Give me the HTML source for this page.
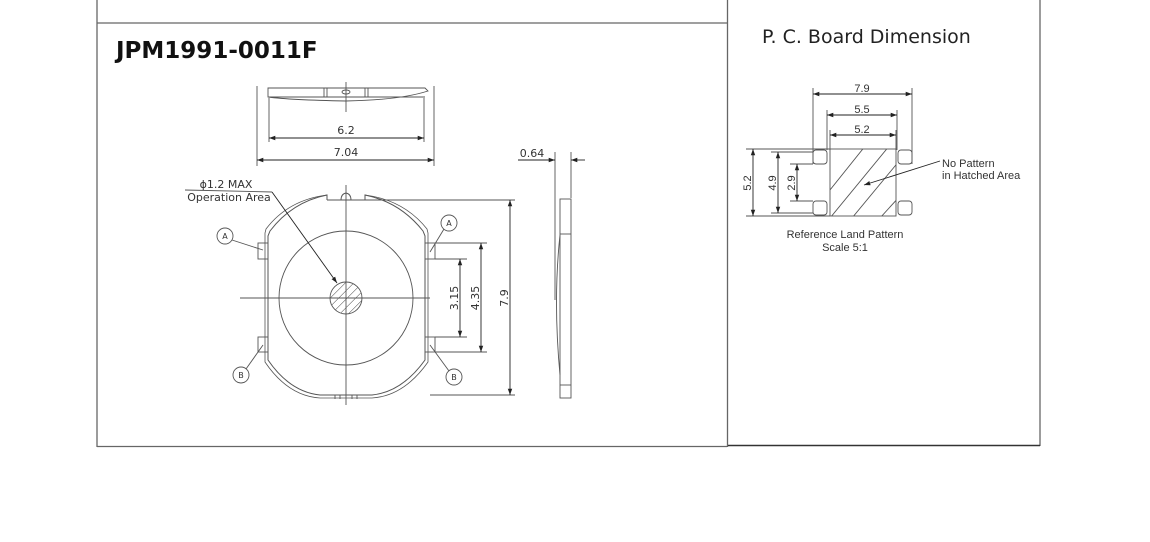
<!DOCTYPE html>
<html><head><meta charset="utf-8"><style>
html,body{margin:0;padding:0;background:#fff;width:1150px;height:542px;overflow:hidden}
svg{display:block}
text{font-family:"DejaVu Sans","Liberation Sans",sans-serif;fill:#333}
</style></head><body>
<svg width="1150" height="542" viewBox="0 0 1150 542" xmlns="http://www.w3.org/2000/svg">
<defs>
<marker id="ar" viewBox="0 0 10 10" refX="10" refY="5" markerWidth="7" markerHeight="7" orient="auto-start-reverse"><path d="M0,1.5 L10,5 L0,8.5z" fill="#222"/></marker>
<pattern id="hat" width="6" height="6" patternUnits="userSpaceOnUse" patternTransform="rotate(45)"><line x1="0" y1="0" x2="0" y2="6" stroke="#444" stroke-width="1"/></pattern>
<clipPath id="sq"><rect x="830" y="149" width="66" height="67"/></clipPath>
</defs>
<g stroke="#666" stroke-width="1.3" fill="none">
<line x1="97" y1="0" x2="97" y2="447"/>
<line x1="97" y1="23" x2="727" y2="23"/>
<line x1="727.5" y1="0" x2="727.5" y2="447"/>
<line x1="1040" y1="0" x2="1040" y2="446"/>
<line x1="97" y1="446.5" x2="727" y2="446.5"/>
<line x1="728" y1="445.5" x2="1040" y2="445.5" stroke="#333" stroke-width="1.6"/>
</g>
<text x="116" y="58" font-size="23" font-weight="bold" style="fill:#111">JPM1991-0011F</text>
<text x="762" y="43" font-size="19" style="fill:#222">P. C. Board Dimension</text>

<g stroke="#555" stroke-width="0.9" fill="none">
<path d="M268,88 H425 L428,91 Q400,100 346,101 Q290,100 268,97 Z" fill="#fff"/>
<line x1="268" y1="97" x2="425" y2="97"/>
<line x1="324" y1="88" x2="324" y2="97"/><line x1="327" y1="88" x2="327" y2="97"/>
<line x1="365" y1="88" x2="365" y2="97"/><line x1="368" y1="88" x2="368" y2="97"/>
<ellipse cx="346" cy="92" rx="4" ry="2"/>
<line x1="346" y1="82" x2="346" y2="112"/>
<line x1="257" y1="86" x2="257" y2="166"/><line x1="434" y1="86" x2="434" y2="166"/>
<line x1="269" y1="98" x2="269" y2="142"/><line x1="424" y1="98" x2="424" y2="142"/>
<line x1="269" y1="138" x2="424" y2="138" stroke="#222" marker-start="url(#ar)" marker-end="url(#ar)"/>
<line x1="257" y1="160" x2="434" y2="160" stroke="#222" marker-start="url(#ar)" marker-end="url(#ar)"/>

<path d="M327,200 L327,195 Q292,202 270,231 L268,236 V360 Q290,392 320,395 H372 Q402,392 425,360 V236 L423,231 Q400,202 365,195 L365,200" stroke-width="1"/>
<path d="M327,195 Q288,200 266,229 L265,233 V362 Q288,396 320,398 H372 Q404,396 428,362 V233 L427,229 Q404,200 365,195" stroke-width="0.8"/>
<path d="M341,200 Q341,194 346,193 Q351,194 351,200"/>
<line x1="327" y1="200" x2="365" y2="200"/>
<line x1="335" y1="395" x2="335" y2="399"/><line x1="340" y1="395" x2="340" y2="399"/><line x1="352" y1="395" x2="352" y2="399"/><line x1="357" y1="395" x2="357" y2="399"/>
<circle cx="346" cy="298" r="67"/>
<circle cx="346" cy="298" r="16" fill="url(#hat)"/>
<line x1="240" y1="298" x2="430" y2="298"/>
<line x1="346" y1="185" x2="346" y2="405"/>
<rect x="258" y="243" width="10" height="16"/><rect x="258" y="337" width="10" height="15"/>
<rect x="425" y="243" width="10" height="16"/><rect x="425" y="337" width="10" height="15"/>
<circle cx="225" cy="236" r="8"/><circle cx="449" cy="223" r="8"/>
<circle cx="241" cy="375" r="8"/><circle cx="454" cy="377" r="8"/>
<line x1="232" y1="240" x2="263" y2="250"/><line x1="444" y1="229" x2="430" y2="252"/>
<line x1="246" y1="369" x2="263" y2="345"/><line x1="449" y1="371" x2="430" y2="345"/>
<line x1="435" y1="259" x2="467" y2="259"/><line x1="435" y1="337" x2="467" y2="337"/>
<line x1="435" y1="243" x2="487" y2="243"/><line x1="435" y1="352" x2="487" y2="352"/>
<line x1="365" y1="200" x2="515" y2="200"/><line x1="430" y1="395" x2="515" y2="395"/>
<line x1="460" y1="259" x2="460" y2="337" stroke="#222" marker-start="url(#ar)" marker-end="url(#ar)"/>
<line x1="481" y1="243" x2="481" y2="352" stroke="#222" marker-start="url(#ar)" marker-end="url(#ar)"/>
<line x1="510" y1="200" x2="510" y2="395" stroke="#222" marker-start="url(#ar)" marker-end="url(#ar)"/>
<line x1="185" y1="190" x2="272" y2="192"/>
<line x1="272" y1="192" x2="337" y2="283" stroke="#222" marker-end="url(#ar)"/>
<line x1="555" y1="152" x2="555" y2="300"/><line x1="571" y1="152" x2="571" y2="198"/>
<line x1="518" y1="160" x2="555" y2="160" stroke="#222" marker-end="url(#ar)"/>
<line x1="585" y1="160" x2="571" y2="160" stroke="#222" marker-end="url(#ar)"/>
<rect x="560" y="199" width="11" height="199"/>
<line x1="560" y1="234" x2="571" y2="234"/><line x1="560" y1="385" x2="571" y2="385"/>
<path d="M560,235 Q553,300 560,375"/>

<line x1="813" y1="88" x2="813" y2="164"/><line x1="912" y1="88" x2="912" y2="164"/>
<line x1="827" y1="110" x2="827" y2="150"/><line x1="897" y1="110" x2="897" y2="150"/>
<line x1="830" y1="130" x2="830" y2="150"/><line x1="896" y1="130" x2="896" y2="150"/>
<line x1="813" y1="94" x2="912" y2="94" stroke="#222" marker-start="url(#ar)" marker-end="url(#ar)"/>
<line x1="827" y1="115" x2="897" y2="115" stroke="#222" marker-start="url(#ar)" marker-end="url(#ar)"/>
<line x1="830" y1="135" x2="896" y2="135" stroke="#222" marker-start="url(#ar)" marker-end="url(#ar)"/>
<rect x="830" y="149" width="66" height="67"/>
<g clip-path="url(#sq)"><line x1="830" y1="190" x2="870" y2="140"/><line x1="830" y1="218" x2="890" y2="145"/><line x1="852" y1="218" x2="900" y2="160"/><line x1="880" y1="218" x2="900" y2="196"/></g>
<rect x="813" y="150" width="14" height="14" rx="3"/><rect x="813" y="201" width="14" height="14" rx="3"/>
<rect x="898" y="150" width="14" height="14" rx="3"/><rect x="898" y="201" width="14" height="14" rx="3"/>
<line x1="746" y1="149" x2="830" y2="149"/><line x1="746" y1="216" x2="830" y2="216"/>
<line x1="771" y1="152" x2="813" y2="152"/><line x1="771" y1="213" x2="813" y2="213"/>
<line x1="790" y1="164" x2="813" y2="164"/><line x1="790" y1="201" x2="813" y2="201"/>
<line x1="753" y1="149" x2="753" y2="216" stroke="#222" marker-start="url(#ar)" marker-end="url(#ar)"/>
<line x1="778" y1="152" x2="778" y2="213" stroke="#222" marker-start="url(#ar)" marker-end="url(#ar)"/>
<line x1="797" y1="164" x2="797" y2="201" stroke="#222" marker-start="url(#ar)" marker-end="url(#ar)"/>
<line x1="940" y1="161" x2="864" y2="185" stroke="#222" marker-end="url(#ar)"/>
</g>

<g font-size="11">
<text x="346" y="134" text-anchor="middle">6.2</text>
<text x="346" y="156" text-anchor="middle">7.04</text>
<text x="226" y="188" text-anchor="middle">ϕ1.2 MAX</text>
<text x="229" y="201" text-anchor="middle">Operation Area</text>
<text x="532" y="157" text-anchor="middle">0.64</text>
<text transform="translate(458,298) rotate(-90)" text-anchor="middle">3.15</text>
<text transform="translate(479,298) rotate(-90)" text-anchor="middle">4.35</text>
<text transform="translate(508,298) rotate(-90)" text-anchor="middle">7.9</text>
</g>
<g font-size="8" text-anchor="middle">
<text x="225" y="239">A</text><text x="449" y="226">A</text>
<text x="241" y="378">B</text><text x="454" y="380">B</text>
</g>
<g font-size="11" style="font-family:'Liberation Sans',sans-serif">
<text x="862" y="92" text-anchor="middle" style="font-family:'Liberation Sans',sans-serif">7.9</text>
<text x="862" y="113" text-anchor="middle" style="font-family:'Liberation Sans',sans-serif">5.5</text>
<text x="862" y="133" text-anchor="middle" style="font-family:'Liberation Sans',sans-serif">5.2</text>
<text transform="translate(751,183) rotate(-90)" text-anchor="middle" style="font-family:'Liberation Sans',sans-serif">5.2</text>
<text transform="translate(776,183) rotate(-90)" text-anchor="middle" style="font-family:'Liberation Sans',sans-serif">4.9</text>
<text transform="translate(795,183) rotate(-90)" text-anchor="middle" style="font-family:'Liberation Sans',sans-serif">2.9</text>
<text x="942" y="167" style="font-family:'Liberation Sans',sans-serif">No Pattern</text>
<text x="942" y="179" style="font-family:'Liberation Sans',sans-serif">in Hatched Area</text>
<text x="845" y="238" text-anchor="middle" style="font-family:'Liberation Sans',sans-serif">Reference Land Pattern</text>
<text x="845" y="251" text-anchor="middle" style="font-family:'Liberation Sans',sans-serif">Scale  5:1</text>
</g>
</svg>
</body></html>
